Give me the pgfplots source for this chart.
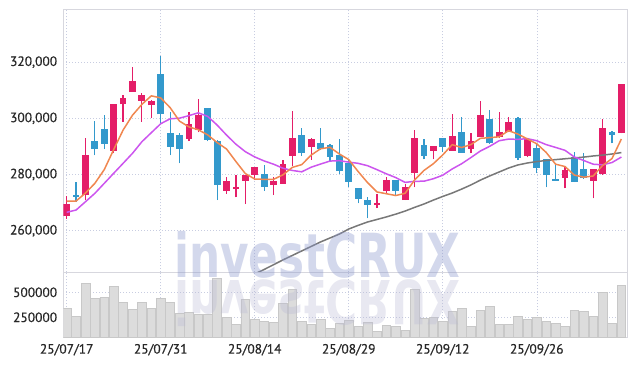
\documentclass[border=0pt]{standalone}
\usepackage{pgfplots}
\pgfplotsset{compat=1.18}
\usepackage{pgfplotstable}
\usepackage{fontspec}
\setmainfont{PT Sans}
\newfontfamily\tickfont{PT Sans}[FakeBold=0.6]
\newfontfamily\wmfont{DejaVu Sans Bold}
\definecolor{upc}{RGB}{228,30,104}
\definecolor{dnc}{RGB}{51,153,204}
\definecolor{maA}{RGB}{240,135,80}
\definecolor{maB}{RGB}{204,85,238}
\definecolor{maC}{RGB}{120,120,120}
\definecolor{gridc}{RGB}{200,205,225}
\definecolor{framec}{RGB}{215,215,222}
\definecolor{volf}{RGB}{220,220,220}
\definecolor{vold}{RGB}{200,200,200}
\definecolor{txt}{RGB}{40,40,40}
\definecolor{wmc}{RGB}{140,152,205}
\definecolor{wmr}{RGB}{185,185,212}

\pgfplotstableread{
i O H L C
0 265300 272500 264200 269500
2 272700 293000 270900 286900
5 288500 305100 287500 305100
6 305000 308200 298800 307100
7 309500 318400 309400 313300
8 306300 308900 298700 308300
9 304600 306500 300200 306200
13 292700 302200 291900 298000
14 295800 307000 295000 301100
17 274200 279000 273200 277700
18 274900 279800 271900 275700
19 277800 279800 269500 279700
20 279900 282600 278000 282600
22 276400 279000 272700 277700
23 276700 285200 276700 283700
24 286700 302500 283000 293000
26 289900 292900 285200 292600
33 269100 273000 268000 269700
34 274000 279000 273000 278000
36 270900 276600 270900 275400
37 280400 295800 275400 292900
39 288500 290100 285400 290000
41 288500 301400 288400 293600
43 289200 294700 287500 291900
44 293500 306300 293400 301200
46 293500 302100 292900 295100
47 295100 300400 295000 298700
49 286600 292700 286100 292600
53 278900 282800 275100 281600
56 277800 282000 271500 282000
57 280100 299600 280000 296400
59 294700 312300 294600 312200
}\up

\pgfplotstableread{
i O H L C
1 272700 277400 270300 272100
3 291900 299000 286800 289000
4 296200 301100 289000 291000
10 315800 322300 298200 301400
11 294700 302100 286800 289900
12 294100 294700 284000 289200
15 303600 303800 291800 292300
16 291900 292300 270900 276300
21 280100 283500 274200 275700
25 294100 296400 286600 287500
27 291200 296400 288900 289000
28 290500 290700 284800 286300
29 286900 292500 280100 281200
30 284200 285200 275700 277400
31 275100 275200 269700 271400
32 270900 271900 264400 269300
35 278000 278100 272600 274200
38 290500 292500 285400 286700
40 292900 293000 288100 289900
42 295000 300400 287700 287800
45 299800 303000 291000 291100
48 300200 300400 285200 285800
50 289500 290900 280400 282400
51 285400 285500 275400 279800
52 278300 284000 277700 277800
54 286100 288100 277300 277400
55 282000 287500 278500 278600
58 295100 295500 291100 294000
}\dn

\pgfplotstableread{
i m5 m10
0 270570 266550
1 270570 267360
2 273400 270320
3 276870 273310
4 281760 276870
5 288880 280430
6 295820 283980
7 301100 287540
8 304960 291670
9 308000 294880
10 307260 298070
11 303820 299820
12 299000 300050
13 296940 300950
14 295920 301960
15 294100 300680
16 291380 297600
17 289080 294040
18 284620 290780
19 280340 288130
20 278400 286250
21 278280 284830
22 278280 283680
23 279880 282250
24 282540 281440
25 283520 280960
26 286900 282590
27 289160 283720
28 289680 284780
29 287320 284930
30 285300 284410
31 281060 283980
32 277120 283140
33 273800 281740
34 273160 280240
35 272520 278910
36 273320 277190
37 278040 277580
38 281440 277620
39 283840 278500
40 286980 279750
41 290620 281970
42 289600 283820
43 290640 286040
44 292880 288360
45 293120 290050
46 293420 292020
47 295600 292600
48 294380 292510
49 292660 292770
50 290920 292020
51 287860 290640
52 283680 289640
53 282840 288610
54 279800 286230
55 279040 284980
56 279480 283670
57 283200 283440
58 285680 284260
59 292640 286220
}\ma

\pgfplotstableread{
i m60
18 241500
19 243200
20 244600
21 246200
22 247900
23 249600
24 251200
25 252800
26 254400
27 256000
28 257400
29 258800
30 260600
31 261900
32 263100
33 264000
34 264900
35 265900
36 267000
37 268300
38 269500
39 270900
40 272200
41 273400
42 274800
43 276300
44 278000
45 279500
46 280900
47 282300
48 283400
49 284100
50 284600
51 285000
52 285300
53 285600
54 285900
55 286200
56 286600
57 286900
58 287300
59 287800
}\malong

\pgfplotstableread{
i v
0 340000
1 263000
2 590000
3 440000
4 450000
5 560000
6 400000
7 330000
8 400000
9 340000
10 440000
11 400000
12 290000
13 300000
14 280000
15 280000
16 640000
17 250000
18 180000
19 430000
20 230000
21 213000
22 203000
23 390000
24 530000
25 213000
26 180000
27 230000
28 140000
29 190000
30 223000
31 163000
32 203000
33 113000
34 170000
35 163000
36 123000
37 530000
38 240000
39 250000
40 207000
41 313000
42 340000
43 163000
44 323000
45 363000
46 183000
47 183000
48 260000
49 233000
50 250000
51 213000
52 193000
53 163000
54 323000
55 313000
56 260000
57 503000
58 193000
59 573000
}\vol

\pgfplotsset{
  base/.style={
    scale only axis, width=564.2bp,
    xmin=-0.36, xmax=59.65, enlargelimits=false,
    axis line style={draw=framec, line width=0.8bp},
    major tick length=0pt,
    grid=major,
    grid style={color=gridc, line width=0.55bp, dash pattern=on 0.9bp off 2.1bp},
    xtick={0,10,20,30,40,50},
    tick label style={font=\tickfont\fontsize{13.5}{14}\selectfont, text=txt},
    /pgf/number format/assume math mode=true,
    scaled ticks=false,
    yticklabel style={inner sep=0pt, xshift=-6bp},
  },
  candle/.style 2 args={draw=none, mark=none, forget plot,
    error bars/.cd, y dir=plus, y explicit, error mark=none,
    error bar style={line width=#1, draw=#2, solid}},
}

\begin{document}
\begin{tikzpicture}
\path[use as bounding box] (0bp,0bp) rectangle (636bp,-366bp);

% price panel
\begin{axis}[base,
  at={(63.3bp,-272.3bp)}, anchor=south west,
  height=263.3bp,
  ymin=245200, ymax=338900,
  ytick={260000,280000,300000,320000},
  yticklabel style={/pgf/number format/.cd, fixed, 1000 sep={,}},
  xticklabels={},
]
\addplot[candle={1.2bp}{upc}] table[x=i, y=L, y error expr=\thisrow{H}-\thisrow{L}] {\up};
\addplot[candle={1.2bp}{dnc}] table[x=i, y=L, y error expr=\thisrow{H}-\thisrow{L}] {\dn};
\addplot[candle={6.8bp}{upc}] table[x=i, y=O, y error expr=\thisrow{C}-\thisrow{O}] {\up};
\addplot[candle={6.8bp}{dnc}] table[x=i, y=C, y error expr=\thisrow{O}-\thisrow{C}] {\dn};
\addplot[maC, line width=1.5bp, mark=none] table[x=i, y=m60] {\malong};
\addplot[maB, line width=1.5bp, mark=none] table[x=i, y=m10] {\ma};
\addplot[maA, line width=1.5bp, mark=none] table[x=i, y=m5] {\ma};
\end{axis}

% volume panel
\begin{axis}[base,
  at={(63.3bp,-272.3bp)}, anchor=north west,
  height=65bp,
  ymin=50000, ymax=700000,
  ytick={250000,500000},
  yticklabel style={/pgf/number format/.cd, fixed, 1000 sep={}},
  xticklabels={25/07/17,25/07/31,25/08/14,25/08/29,25/09/12,25/09/26},
  xticklabel style={inner sep=0pt, yshift=-6.5bp},
]
\addplot[ybar, bar width=0.92, fill=volf, draw=vold, line width=0.6bp] table[x=i, y=v] {\vol};
\end{axis}

% watermark
\node[anchor=base west, inner sep=0pt, xscale=0.72, transform shape, text=wmc, opacity=0.38]
  at (174bp,-277bp) {\wmfont\fontsize{61}{61}\selectfont investCRUX};
\node[anchor=base west, inner sep=0pt, xscale=0.72, yscale=-1, transform shape, text=wmr, opacity=0.33]
  at (174bp,-280bp) {\wmfont\fontsize{61}{61}\selectfont investCRUX};
\end{tikzpicture}
\end{document}
